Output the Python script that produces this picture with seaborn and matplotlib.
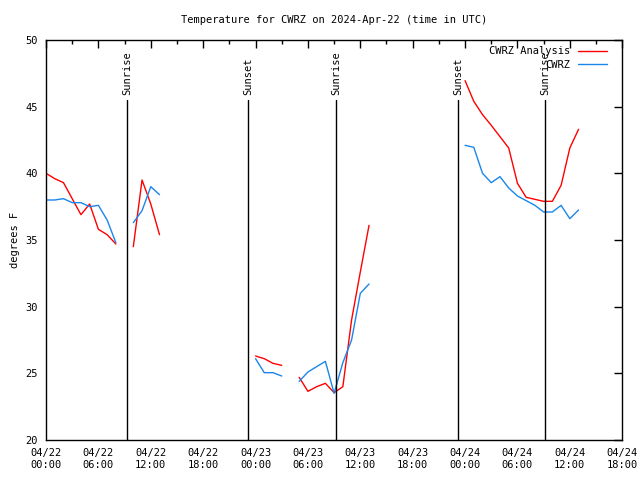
import numpy as np
import pandas as pd
import seaborn as sns
import matplotlib
matplotlib.use("Agg")
import matplotlib.pyplot as plt
import matplotlib.dates as mdates
from matplotlib.ticker import MultipleLocator

# ---- data (hours after 2024-04-22 00:00 UTC) ----
hours = list(range(62))
nan = np.nan
analysis_temp = [
    40.0, 39.6, 39.3, 38.1, 36.9, 37.7, 35.8, 35.4, 34.7, nan,
    34.5, 39.5, 37.7, 35.4, nan, nan, nan, nan, nan, nan,
    nan, nan, nan, nan, 26.3, 26.1, 25.75, 25.6, nan, 24.7,
    23.65, 24.0, 24.25, 23.55, 24.0, 29.0, 32.6, 36.1, nan, nan,
    nan, nan, nan, nan, nan, nan, nan, nan, 46.95, 45.4,
    44.4, 43.6, 42.75, 41.9, 39.25, 38.2, 38.05, 37.9, 37.9, 39.1,
    41.9, 43.3,
]
observed_temp = [
    38.0, 38.0, 38.1, 37.8, 37.8, 37.5, 37.6, 36.5, 34.8, nan,
    36.3, 37.2, 39.0, 38.4, nan, nan, nan, nan, nan, nan,
    nan, nan, nan, nan, 26.1, 25.05, 25.05, 24.8, nan, 24.4,
    25.1, 25.5, 25.9, 23.5, 25.8, 27.5, 31.0, 31.7, nan, nan,
    nan, nan, nan, nan, nan, nan, nan, nan, 42.1, 41.95,
    40.0, 39.3, 39.75, 38.9, 38.3, 37.95, 37.6, 37.1, 37.1, 37.6,
    36.6, 37.25,
]
sun_labels = ["Sunrise", "Sunset", "Sunrise", "Sunset", "Sunrise"]
sun_hours = [9.28, 23.15, 33.23, 47.21, 57.18]

start = pd.Timestamp("2024-04-22 00:00")
times = start + pd.to_timedelta(hours, unit="h")
df = pd.DataFrame({"time": times, "CWRZ Analysis": analysis_temp, "CWRZ": observed_temp})

sns.set_theme(style="white")
plt.rcParams["font.family"] = ["DejaVu Sans Mono"]
plt.rcParams["font.size"] = 7.5
for k in ["text.color", "axes.labelcolor", "xtick.color", "ytick.color"]:
    plt.rcParams[k] = "black"

fig = plt.figure(figsize=(6.4, 4.8), dpi=100)
ax = fig.add_axes([0.0719, 0.0833, 0.9003, 0.8334])

colors = {"CWRZ Analysis": "#ff0000", "CWRZ": "#1a86ec"}
for name in ["CWRZ Analysis", "CWRZ"]:
    # split the series at gaps so each run is drawn on its own
    grp = df[name].isna().cumsum()
    first = True
    for _, part in df[["time", name]].groupby(grp):
        part = part.dropna()
        if len(part) < 2:
            continue
        sns.lineplot(x="time", y=name, data=part, ax=ax, color=colors[name],
                     lw=1.0, label=name if first else None, legend=False)
        first = False

for lab, h in zip(sun_labels, sun_hours):
    t = start + pd.Timedelta(hours=h)
    ax.plot([t, t], [20, 45.5], color="black", lw=1.0)
    ax.text(t, 45.9, lab, rotation=90, ha="center", va="bottom", fontsize=7.5)

ax.set_xlim(start, start + pd.Timedelta(hours=66))
ax.set_ylim(20, 50)
ax.yaxis.set_major_locator(MultipleLocator(5))
ax.xaxis.set_major_locator(mdates.HourLocator(byhour=[0, 6, 12, 18]))
ax.xaxis.set_minor_locator(mdates.HourLocator(byhour=[3, 9, 15, 21]))
ax.xaxis.set_major_formatter(mdates.DateFormatter("%m/%d\n%H:%M"))
ax.tick_params(which="both", direction="in", top=True, right=True, color="black",
               labelsize=7.5, pad=6)
ax.tick_params(which="major", length=6, width=1)
ax.tick_params(which="minor", length=3, width=1)
for s in ax.spines.values():
    s.set_color("black")
    s.set_linewidth(1)

ax.set_xlabel("")
ax.set_ylabel("degrees F", fontsize=7.5)
ax.set_title("Temperature for CWRZ on 2024-Apr-22 (time in UTC)", fontsize=7.5, pad=12)

ax.legend(loc="upper right", frameon=False, markerfirst=False, fontsize=7.5,
          handlelength=2.8, borderaxespad=0.2, labelspacing=0.35,
          bbox_to_anchor=(0.985, 1.0))

fig.savefig("out.png", dpi=100)
